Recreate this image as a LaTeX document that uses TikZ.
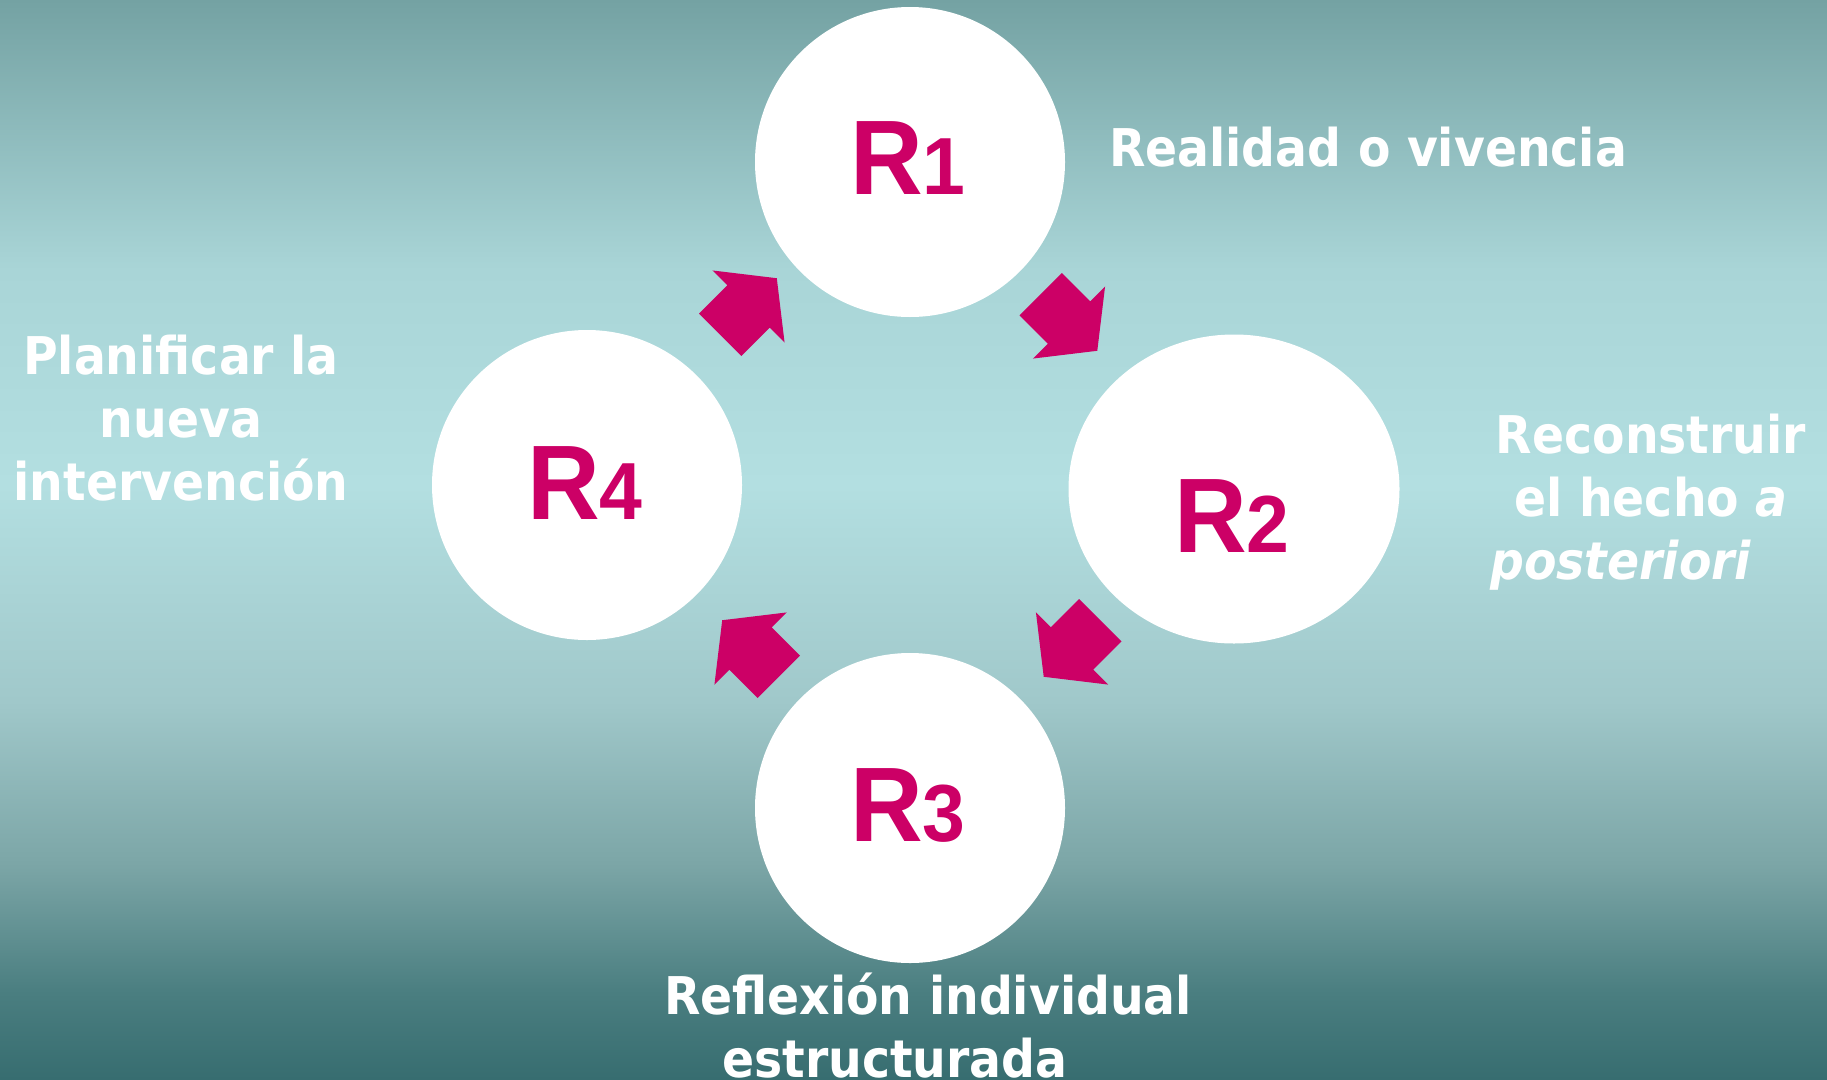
\documentclass[tikz,border=0pt]{standalone}
\usepackage{fontspec}
\setmainfont{DejaVu Sans}[FakeStretch=0.91]
\newfontfamily\rfont{Liberation Sans}[FakeStretch=0.95]
\usepackage{xcolor}
\usetikzlibrary{shapes.geometric, positioning, calc}

\definecolor{rosa}{RGB}{204,0,102}
\definecolor{f0}{HTML}{74A2A3}
\definecolor{f1}{HTML}{A9D5D7}
\definecolor{f2}{HTML}{B3DFE1}
\definecolor{f3}{HTML}{A0C8CA}
\definecolor{f4}{HTML}{7CA6A7}
\definecolor{f5}{HTML}{4A7E80}
\definecolor{f6}{HTML}{376D70}
\pgfdeclareverticalshading{fondo}{100bp}{color(0bp)=(f6); color(25bp)=(f6); color(29bp)=(f5); color(35bp)=(f4); color(42.5bp)=(f3); color(52.5bp)=(f2); color(62.5bp)=(f1); color(75bp)=(f0); color(100bp)=(f0)}

\newcommand{\cifra}[1]{{\fontsize{81}{81}\selectfont #1}}

\begin{document}
\begin{tikzpicture}[x=1pt, y=-1pt]
	% Styles
	\tikzstyle{bubble} = [circle, fill=white, minimum size=310pt, inner sep=0pt]
	\tikzstyle{oval} = [ellipse, fill=white, minimum width=331pt, minimum height=309pt, inner sep=0pt]
	\tikzstyle{rtag} = [anchor=base west, inner sep=0pt, text=rosa, font=\rfont\bfseries\fontsize{106}{106}\selectfont]
	\tikzstyle{caption} = [anchor=base, inner sep=0pt, text=white, align=center, font=\bfseries\fontsize{52}{63}\selectfont]
	\tikzset{flecha/.pic={\fill[rosa] (-40,-30) -- (0,-30) -- (0,-51) -- (40,0) -- (0,51) -- (0,30) -- (-40,30) -- cycle;}}

	% Background
	\shade[shading=fondo] (0,0) rectangle (1827,1079);
	\useasboundingbox (0,0) rectangle (1827,1079);

	% Nodes
	\node[bubble] (R1) at (910,162) {};
	\node[oval] (R2) at (1234,489) {};
	\node[bubble] (R3) at (910,808) {};
	\node[bubble] (R4) at (587,485) {};

	\node[rtag] (t1) at (850,194) {R\cifra{1}};
	\node[rtag] (t2) at (1174,552) {R\cifra{2}};
	\node[rtag] (t3) at (850,841) {R\cifra{3}};
	\node[rtag] (t4) at (527,519) {R\cifra{4}};

	% captions (base = last line)
	\node[caption] (c1) at (1368,166) {Realidad o vivencia};
	\node[caption] (c2) at (1651,579) {Reconstruir\\el hecho \textit{a}\\\textit{posteriori}\hspace*{60pt}};
	\node[caption] (c3) at (181,500) {Planificar la\\nueva\\intervención};
	\node[caption] (c4) at (928,1077) {Reflexión individual\\estructurada\hspace*{66pt}};

	% Connections
	\pic[rotate=-45] at ($(R1)!0.5!(R2)+(-3,-3)$) {flecha};
	\pic[rotate=-135] at ($(R2)!0.5!(R3)$) {flecha};
	\pic[rotate=135] at ($(R3)!0.5!(R4)+(2,2)$) {flecha};
	\pic[rotate=45] at ($(R4)!0.5!(R1)+(0,-17)$) {flecha};
\end{tikzpicture}
\end{document}
